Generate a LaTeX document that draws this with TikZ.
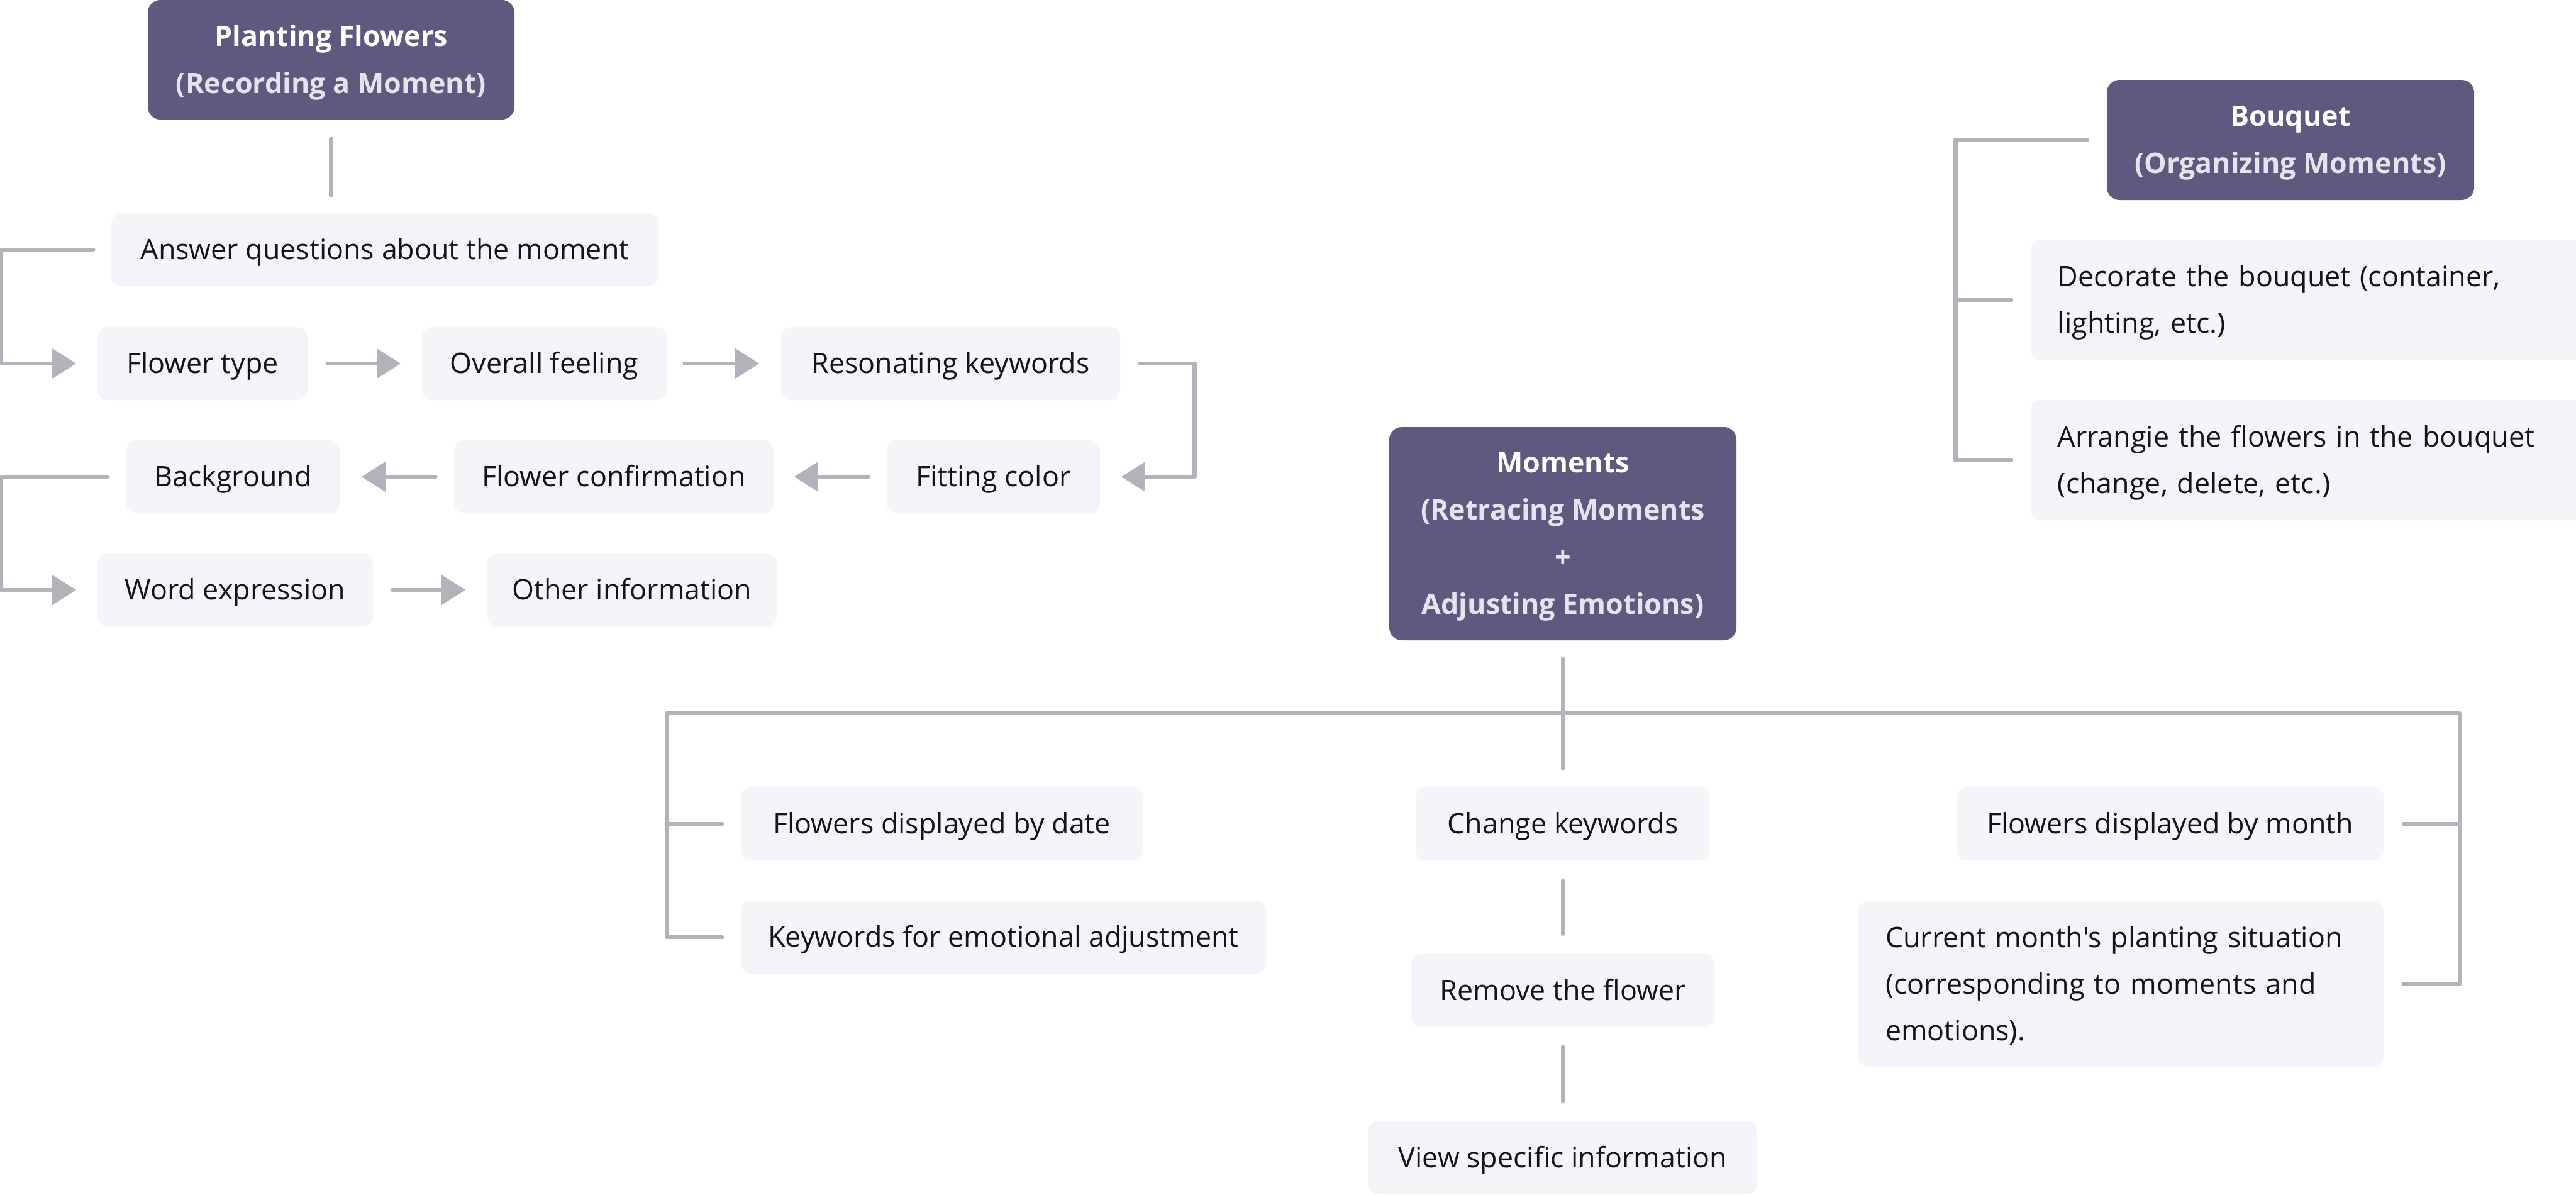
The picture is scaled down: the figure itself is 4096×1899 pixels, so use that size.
\documentclass[tikz,border=0pt]{standalone}
\usepackage{fontspec}
\setmainfont{Open Sans}[Ligatures=TeXOff]
\usetikzlibrary{arrows.meta}
\definecolor{headfill}{RGB}{94,89,126}
\definecolor{headsub}{RGB}{229,227,238}
\definecolor{boxfill}{RGB}{244,244,249}
\definecolor{linec}{RGB}{179,178,186}
\definecolor{textc}{RGB}{20,20,24}
\newcommand\tstr{\rule{0pt}{10.8pt}}
\newcommand\bstr{\rule[-2.9pt]{0pt}{0pt}}
\begin{document}
\begin{tikzpicture}[x=0.25pt,y=-0.25pt,
  sz/.style 2 args={minimum width=#1*0.25pt, minimum height=#2*0.25pt},
  box/.style={fill=boxfill, rounded corners=4pt, inner sep=0pt, text=textc,
    font=\fontsize{11.2}{18.5}\selectfont, align=center, text height=10.8pt, text depth=2.9pt},
  multibox/.style={fill=boxfill, rounded corners=4pt, inner xsep=10.75pt, inner ysep=0pt, text=textc,
    font=\fontsize{11.2}{18.5}\selectfont, align=left},
  head/.style={fill=headfill, rounded corners=5pt, inner sep=0pt, text=white,
    font=\fontsize{11.2}{18.75}\selectfont\bfseries, align=center},
  conn/.style={draw=linec, line width=1.7pt, line cap=round, line join=round},
  arr/.style={conn, -{Triangle[length=9.5pt,width=11.5pt]}}]
\useasboundingbox[fill=white] (0,0) rectangle (4096,1899);

% headers
\node[head, sz={583}{190}] (pf) at (526.5,95) {\tstr Planting Flowers\\\textcolor{headsub}{(Recording a Moment)}\bstr};
\node[head, sz={584}{191}] (bq) at (3642,222.5) {\tstr Bouquet\\\textcolor{headsub}{(Organizing Moments)}\bstr};
\node[head, sz={552}{339}] (mom) at (2485,848.5) {\tstr Moments\\\textcolor{headsub}{(Retracing Moments}\\\textcolor{headsub}{+}\\\textcolor{headsub}{Adjusting Emotions)}\bstr};

% planting flowers flow
\node[box, sz={870}{116}] (ans) at (612,397) {Answer questions about the moment};
\node[box, sz={334}{116}] (ft) at (322,578) {Flower type};
\node[box, sz={389}{116}] (of) at (865.5,578) {Overall feeling};
\node[box, sz={539}{116}] (res) at (1511.5,578) {Resonating keywords};
\node[box, sz={339}{116}] (fit) at (1579.5,758) {Fitting color};
\node[box, sz={508}{116}] (fc) at (976,758) {Flower confirmation};
\node[box, sz={339}{116}] (bg) at (370.5,758) {Background};
\node[box, sz={438}{116}] (we) at (374,938) {Word expression};
\node[box, sz={460}{116}] (oi) at (1005,938) {Other information};

% bouquet
\node[multibox, text width=201.5pt, minimum height=47.5pt, anchor=west] (dec) at (3228,477)
  {\tstr Decorate the bouquet (container,\\lighting, etc.)\bstr};
\node[multibox, text width=201.5pt, minimum height=47.75pt, anchor=west] (arg) at (3228,731.5)
  {\tstr Arrangie the flowers in the bouquet\\(change, delete, etc.)\bstr};

% moments
\node[box, sz={639}{116}] (fd) at (1497.5,1310) {Flowers displayed by date};
\node[box, sz={835}{116}] (kw) at (1595.5,1490) {Keywords for emotional adjustment};
\node[box, sz={467}{116}] (ck) at (2485,1310) {Change keywords};
\node[box, sz={482}{116}] (rf) at (2485,1574.5) {Remove the flower};
\node[box, sz={618}{117}] (vs) at (2485,1840.5) {View specific information};
\node[box, sz={679}{116}] (fm) at (3450.5,1310) {Flowers displayed by month};
\node[multibox, text width=187.25pt, minimum height=66.25pt] (cm) at (3372.5,1564.5)
  {\tstr Current month's planting situation\\(corresponding to moments and\\emotions).\bstr};

% connectors: planting flowers
\draw[conn] ([yshift=-7.5pt]pf.south) -- ([yshift=7pt]pf.south |- ans.north);
\draw[arr] ([xshift=-7pt]ans.west) -- ++(-147,0) |- ([xshift=-8.25pt]ft.west);
\draw[arr] ([xshift=7.75pt]ft.east) -- ([xshift=-8.25pt]of.west);
\draw[arr] ([xshift=7pt]of.east) -- ([xshift=-8.5pt]res.west);
\draw[arr] ([xshift=7.75pt]res.east) -- ++(87,0) |- ([xshift=8.25pt]fit.east);
\draw[arr] ([xshift=-7.25pt]fit.west) -- ([xshift=8pt]fc.east);
\draw[arr] ([xshift=-7.25pt]fc.west) -- ([xshift=8.5pt]bg.east);
\draw[arr] ([xshift=-7.25pt]bg.west) -- ++(-170,0) |- ([xshift=-8.25pt]we.west);
\draw[arr] ([xshift=7.5pt]we.east) -- ([xshift=-8.5pt]oi.west);

% connectors: bouquet
\draw[conn] ([xshift=-7.75pt]bq.west) -- ++(-209,0) coordinate (bqc) |- ([xshift=-7.5pt]arg.west);
\draw[conn] (bqc |- dec.west) -- ([xshift=-7.5pt]dec.west);

% connectors: moments
\coordinate (busL) at (1060,1134);
\coordinate (busR) at (3911,1134);
\draw[conn] ([yshift=-7pt]mom.south) -- ([yshift=7.25pt]ck.north);
\draw[conn] ([xshift=-7.25pt]kw.west) -| (busL) -- (busR) |- ([xshift=7.75pt]cm.east);
\draw[conn] ([xshift=-7.25pt]fd.west) -- (fd.west -| busL);
\draw[conn] ([xshift=7.75pt]fm.east) -- (fm.east -| busR);
\draw[conn] ([yshift=-7.75pt]ck.south) -- ([yshift=7.75pt]rf.north);
\draw[conn] ([yshift=-7.75pt]rf.south) -- ([yshift=7.5pt]vs.north);
\end{tikzpicture}
\end{document}
